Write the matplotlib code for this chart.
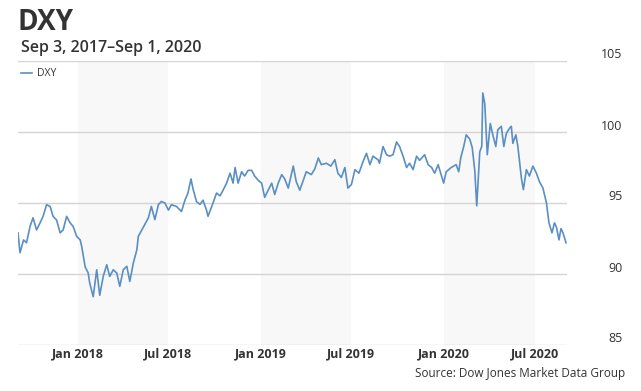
#!/usr/bin/env python
from matplotlib import pyplot as plt
from matplotlib import transforms
import pandas as pd

# DXY index (roughly weekly samples)
dates = [
	"2017-09-04", "2017-09-08", "2017-09-15", "2017-09-21", "2017-09-28", "2017-10-04",
	"2017-10-11", "2017-10-18", "2017-10-24", "2017-10-31", "2017-11-07", "2017-11-13",
	"2017-11-20", "2017-11-27", "2017-12-03", "2017-12-10", "2017-12-17", "2017-12-23",
	"2017-12-30", "2018-01-06", "2018-01-09", "2018-01-16", "2018-01-22", "2018-01-25",
	"2018-02-01", "2018-02-08", "2018-02-14", "2018-02-21", "2018-02-28", "2018-03-06",
	"2018-03-13", "2018-03-20", "2018-03-26", "2018-04-02", "2018-04-09", "2018-04-15",
	"2018-04-22", "2018-04-29", "2018-05-02", "2018-05-09", "2018-05-15", "2018-05-22",
	"2018-05-28", "2018-06-04", "2018-06-11", "2018-06-17", "2018-06-24", "2018-07-01",
	"2018-07-07", "2018-07-17", "2018-07-27", "2018-08-03", "2018-08-09", "2018-08-15",
	"2018-08-19", "2018-08-26", "2018-09-02", "2018-09-08", "2018-09-15", "2018-09-18",
	"2018-09-28", "2018-10-05", "2018-10-12", "2018-10-18", "2018-10-25", "2018-11-01",
	"2018-11-07", "2018-11-11", "2018-11-17", "2018-11-24", "2018-11-30", "2018-12-07",
	"2018-12-14", "2018-12-20", "2018-12-27", "2019-01-03", "2019-01-09", "2019-01-16",
	"2019-01-23", "2019-01-29", "2019-02-05", "2019-02-12", "2019-02-18", "2019-02-25",
	"2019-03-07", "2019-03-13", "2019-03-20", "2019-03-27", "2019-04-02", "2019-04-12",
	"2019-04-19", "2019-04-26", "2019-05-02", "2019-05-12", "2019-05-21", "2019-05-29",
	"2019-06-04", "2019-06-11", "2019-06-18", "2019-06-24", "2019-07-01", "2019-07-08",
	"2019-07-16", "2019-07-24", "2019-07-31", "2019-08-07", "2019-08-13", "2019-08-23",
	"2019-08-26", "2019-09-02", "2019-09-09", "2019-09-15", "2019-09-22", "2019-09-29",
	"2019-10-05", "2019-10-12", "2019-10-19", "2019-10-25", "2019-11-01", "2019-11-08",
	"2019-11-14", "2019-11-24", "2019-12-01", "2019-12-08", "2019-12-14", "2019-12-21",
	"2019-12-27", "2020-01-01", "2020-01-06", "2020-01-16", "2020-01-26", "2020-01-31",
	"2020-02-04", "2020-02-10", "2020-02-15", "2020-02-22", "2020-02-27", "2020-03-03",
	"2020-03-07", "2020-03-13", "2020-03-17", "2020-03-19", "2020-03-23", "2020-03-28",
	"2020-04-03", "2020-04-08", "2020-04-14", "2020-04-18", "2020-04-25", "2020-04-30",
	"2020-05-05", "2020-05-12", "2020-05-15", "2020-05-18", "2020-05-24", "2020-05-28",
	"2020-06-04", "2020-06-08", "2020-06-14", "2020-06-20", "2020-06-27", "2020-07-04",
	"2020-07-10", "2020-07-17", "2020-07-24", "2020-07-29", "2020-08-04", "2020-08-09",
	"2020-08-13", "2020-08-18", "2020-08-22", "2020-08-26", "2020-09-01",
]
dxy = [
	92.9, 91.5, 92.4, 92.2, 93.35, 93.96,
	93.1, 93.6, 94.06, 94.88, 94.76, 94.06,
	93.8, 92.9, 93.1, 94.06, 93.6, 93.35,
	92.65, 92.4, 91.95, 90.5, 90.07, 89.37,
	88.4, 90.3, 88.5, 89.83, 90.65, 89.83,
	90.3, 90.07, 89.13, 90.3, 90.54, 89.48,
	90.77, 91.7, 92.65, 93.1, 93.5, 93.95,
	94.76, 93.83, 94.88, 95.11, 95.0, 94.5,
	94.88, 94.76, 94.4, 95.2, 95.7, 96.7,
	96.0, 95.1, 94.9, 95.2, 94.5, 94.06,
	95.0, 95.7, 95.5, 95.9, 96.4, 97.1,
	96.4, 97.5, 96.4, 97.2, 96.9, 97.3,
	97.3, 96.9, 96.6, 96.4, 95.4, 95.9,
	96.4, 95.6, 96.4, 97.0, 96.7, 96.05,
	97.6, 96.5, 95.9, 96.6, 97.2, 97.0,
	97.4, 98.17, 97.7, 97.8, 97.6, 98.05,
	97.1, 96.8, 97.5, 96.05, 96.3, 97.35,
	97.1, 97.9, 98.5, 97.7, 98.3, 98.05,
	97.8, 98.98, 98.4, 98.3, 98.4, 99.3,
	98.98, 98.3, 97.5, 97.8, 97.35, 98.3,
	98.0, 98.4, 97.7, 97.5, 97.1, 97.7,
	97.0, 96.4, 97.2, 97.5, 97.7, 97.2,
	98.17, 98.98, 99.8, 99.5, 98.9, 97.3,
	94.8, 98.6, 99.0, 102.75, 102.0, 98.4,
	100.6, 99.8, 98.98, 100.16, 100.4, 98.98,
	99.9, 100.3, 100.4, 99.2, 99.8, 98.98,
	96.76, 95.94, 97.35, 96.9, 97.6, 97.1,
	96.5, 96.05, 95.0, 93.6, 92.9, 93.6,
	93.3, 92.4, 93.2, 92.9, 92.2,
]

shade_start = ["2018-01-01", "2019-01-01", "2020-01-01"]
shade_end = ["2018-07-01", "2019-07-01", "2020-07-01"]
xtick_dates = ["2018-01-01", "2018-07-01", "2019-01-01", "2019-07-01", "2020-01-01", "2020-07-01"]
xtick_labels = ["Jan 2018", "Jul 2018", "Jan 2019", "Jul 2019", "Jan 2020", "Jul 2020"]
yticks = [85, 90, 95, 100, 105]

plt.rcParams['font.family'] = ['Open Sans', 'DejaVu Sans']
text_color = '#333333'

fig = plt.figure(figsize=(6.41, 3.91), dpi=100)
ax = fig.add_axes([18/641, 1 - 345/391, (567 - 18)/641, (345 - 61)/391])

x = pd.to_datetime(dates)
for s, e in zip(shade_start, shade_end):
	ax.axvspan(pd.Timestamp(s), pd.Timestamp(e), color='#f8f8f8', lw=0, zorder=0)
for yv in yticks:
	ax.axhline(yv, color='#d4d4d4', lw=1, zorder=1)

ax.plot(x, dxy, color='#5a8fc3', lw=1.2, label='DXY', zorder=3)

ax.set_xlim(pd.Timestamp("2017-09-04"), pd.Timestamp("2020-09-03"))
ax.set_ylim(85, 105)
for sp in ax.spines.values(): sp.set_visible(False)

ax.set_xticks(pd.to_datetime(xtick_dates))
ax.set_xticklabels(xtick_labels, fontsize=9, fontweight='bold', color=text_color)
ax.tick_params(axis='x', length=0, pad=2)

ax.yaxis.tick_right()
ax.set_yticks(yticks)
ax.set_yticklabels([str(v) for v in yticks], fontsize=9, color=text_color)
ax.tick_params(axis='y', length=0, pad=40)
shift = transforms.ScaledTranslation(0, 7.5/100, fig.dpi_scale_trans)
for lab in ax.get_yticklabels():
	lab.set_horizontalalignment('right')
	lab.set_transform(lab.get_transform() + shift)

leg = ax.legend(loc='upper left', bbox_to_anchor=(0.0, 0.985), frameon=False, fontsize=7.5,
				handlelength=1.0, handletextpad=0.5, borderaxespad=0.1, borderpad=0.2)
for t in leg.get_texts(): t.set_color(text_color)

fig.text(18/641, 1 - 23/391, "DXY", fontsize=20, fontweight='bold', color=text_color,
		 ha='left', va='center')
fig.text(21/641, 1 - 48/391, "Sep 3, 2017\u2013Sep 1, 2020", fontsize=11.5, fontweight='semibold',
		 color=text_color, ha='left', va='center')
fig.text(625/641, 1 - 374/391, "Source: Dow Jones Market Data Group", fontsize=8.5,
		 color=text_color, ha='right', va='center')

plt.savefig('out.png', dpi=100)
